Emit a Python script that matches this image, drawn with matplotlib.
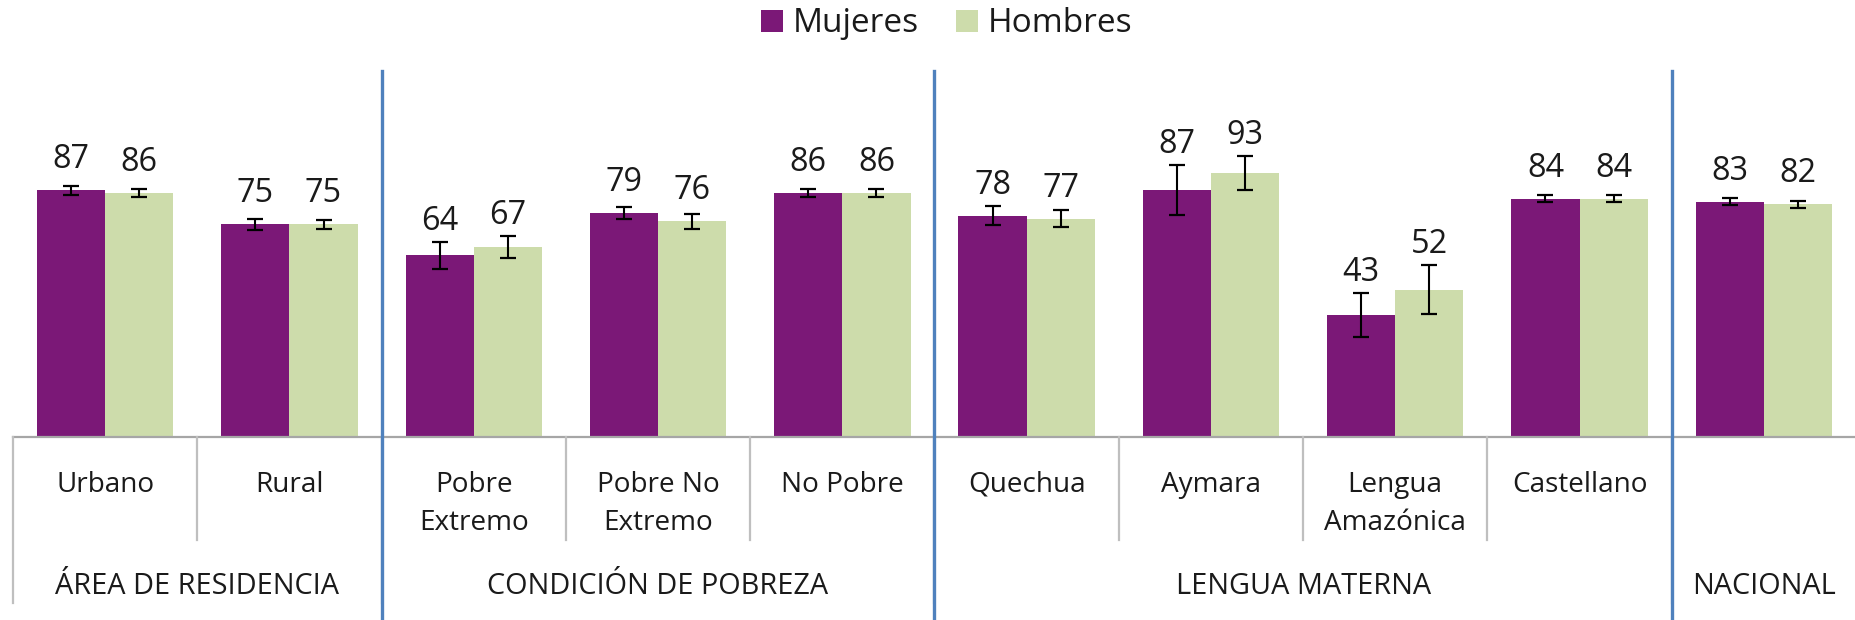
import matplotlib
matplotlib.use("Agg")
import matplotlib.pyplot as plt
from matplotlib.lines import Line2D
from matplotlib.transforms import blended_transform_factory
import numpy as np

plt.rcParams['font.family'] = ['Open Sans', 'DejaVu Sans']

categories = ["Urbano", "Rural", "Pobre\nExtremo", "Pobre No\nExtremo", "No Pobre",
              "Quechua", "Aymara", "Lengua\nAmazónica", "Castellano", ""]
groups = ["ÁREA DE RESIDENCIA", "CONDICIÓN DE POBREZA", "LENGUA MATERNA", "NACIONAL"]
group_sizes = [2, 3, 4, 1]
series = ["Mujeres", "Hombres"]

mujeres = [87, 75, 64, 79, 86, 78, 87, 43, 84, 83]
hombres = [86, 75, 67, 76, 86, 77, 93, 52, 84, 82]
err_mujeres = [1.6, 2.0, 4.9, 2.2, 1.35, 3.4, 8.8, 7.8, 1.2, 1.3]
err_hombres = [1.5, 1.5, 4.0, 2.6, 1.4, 3.1, 6.0, 8.6, 1.2, 1.2]

C_M = "#7B1877"
C_H = "#CDDCAB"
BLUE = "#4F81BD"
GRAY = "#BFBFBF"
TXT = "#1a1a1a"

W, H = 1856, 620
fig = plt.figure(figsize=(W / 100, H / 100), dpi=100)
renderer = fig.canvas.get_renderer()


def fit_size(s, target_px, base=20):
    t = fig.text(0, 0, s, fontsize=base)
    w = t.get_window_extent(renderer).width
    t.remove()
    return base * target_px / w


fs_data = fit_size("87", 37)
fs_cat = fit_size("Urbano", 98)
fs_grp = fit_size("ÁREA DE RESIDENCIA", 283)
fs_leg = fit_size("Mujeres", 126)

base_px = 437
top_px = 71
px_per_unit = 2.836
ax = fig.add_axes([13 / W, 1 - base_px / H, 1 - 13 / W, (base_px - top_px) / H])
n = len(categories)
x = np.arange(n)
bw = 0.37
bm = ax.bar(x - bw / 2, mujeres, bw, color=C_M, label=series[0], zorder=2)
bh = ax.bar(x + bw / 2, hombres, bw, color=C_H, label=series[1], zorder=2)
ax.errorbar(x - bw / 2, mujeres, yerr=err_mujeres, fmt='none', ecolor='black',
            elinewidth=1.5, capsize=6, capthick=1.6, zorder=3)
ax.errorbar(x + bw / 2, hombres, yerr=err_hombres, fmt='none', ecolor='black',
            elinewidth=1.5, capsize=6, capthick=1.6, zorder=3)


def label_offset_pt(e):
    # label sits above the bar, clearing the error bar cap
    off_px = max(22.0, e * px_per_unit + 12.0)
    return off_px * 72 / 100


for xs, vals, errs in ((x - bw / 2, mujeres, err_mujeres), (x + bw / 2, hombres, err_hombres)):
    for xi, v, e in zip(xs, vals, errs):
        ax.annotate(str(v), (xi, v), xytext=(0, label_offset_pt(e)),
                    textcoords='offset points', ha='center', va='baseline',
                    fontsize=fs_data, color=TXT)

ax.set_xlim(-0.5, n - 0.5)
ax.set_ylim(0, (base_px - top_px) / px_per_unit)
for s in ['top', 'left', 'right']:
    ax.spines[s].set_visible(False)
ax.spines['bottom'].set_color('#A6A6A6')
ax.spines['bottom'].set_linewidth(1.6)
ax.set_xticks([])
ax.set_yticks([])

tr = blended_transform_factory(ax.transData, fig.transFigure)

# category labels
line_y = [1 - 485 / H, 1 - 523 / H]
for xi, lab in zip(x, categories):
    for k, line in enumerate(lab.split("\n")):
        fig.text(xi, line_y[k], line, transform=tr, ha='center', va='center',
                 fontsize=fs_cat, color=TXT)

# separators
bounds = np.cumsum([0] + group_sizes) - 0.5
group_b = set(bounds.tolist())
for b in np.arange(-0.5, n - 0.5, 1.0):
    y_end = 1 - 603 / H if b in group_b else 1 - 540 / H
    fig.add_artist(Line2D([b, b], [1 - base_px / H, y_end], transform=tr,
                          color=GRAY, lw=1.6))

# group labels
for g, lo, hi in zip(groups, bounds[:-1], bounds[1:]):
    fig.text((lo + hi) / 2, 1 - 587 / H, g, transform=tr, ha='center', va='center',
             fontsize=fs_grp, color=TXT)

# blue group dividers
for b in bounds[1:-1]:
    fig.add_artist(Line2D([b, b], [0, 1 - top_px / H], transform=tr,
                          color=BLUE, lw=2.4))

fs_leg_px = fs_leg * 100 / 72
fig.legend(handles=[bm, bh], labels=series, loc='center left',
           bbox_to_anchor=(761 / W, 1 - 24 / H), ncol=2, frameon=False,
           fontsize=fs_leg, handlelength=22 / fs_leg_px, handleheight=21 / fs_leg_px,
           handletextpad=10 / fs_leg_px, columnspacing=37 / fs_leg_px,
           borderpad=0, borderaxespad=0, labelcolor=TXT)

fig.savefig("out.png", dpi=100)
